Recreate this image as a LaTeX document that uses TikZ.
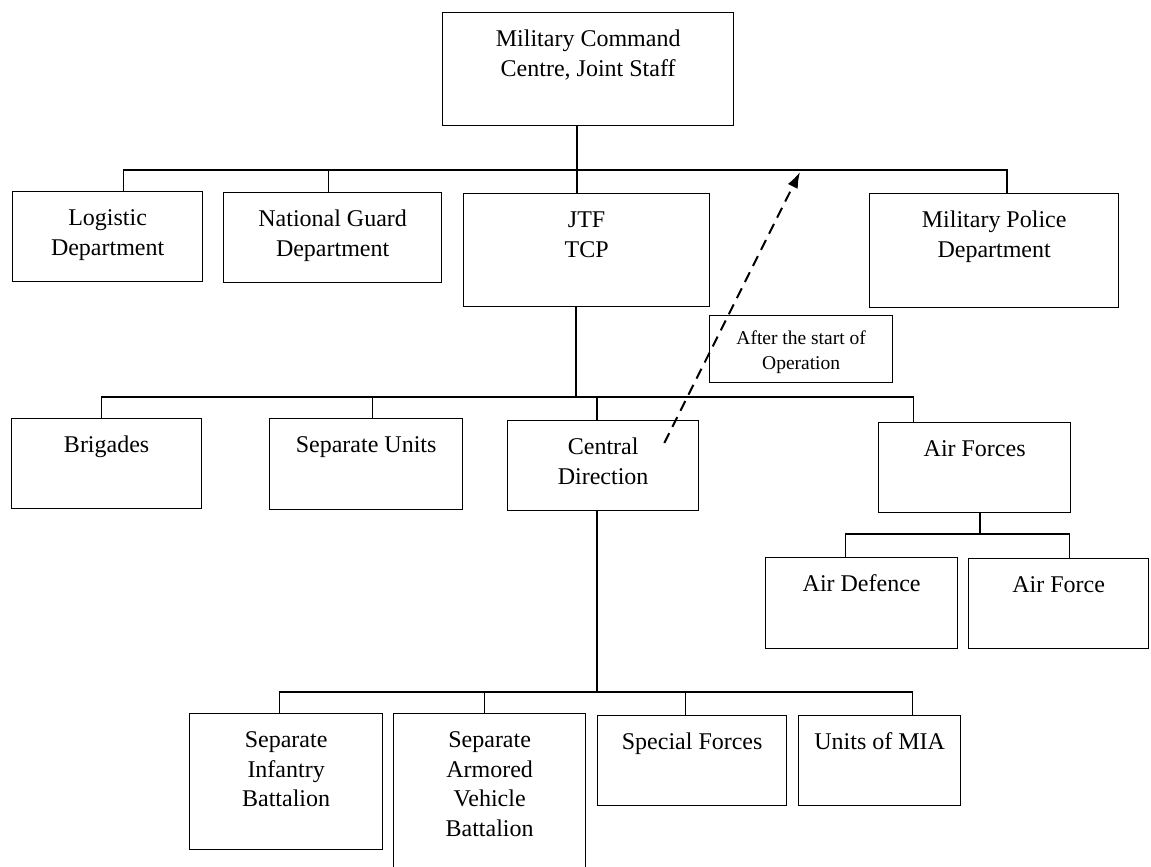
\documentclass[tikz,border=0pt]{standalone}
\usepackage{fontspec}
\setmainfont{Liberation Serif}
\usetikzlibrary{arrows.meta}
\newcommand{\celltext}[4][13.5pt]{\parbox[c][#3][t]{#2}{\centering\vspace*{#1}\strut #4}}

\begin{document}
\begin{tikzpicture}[x=1pt, y=-1pt]
	\tikzset{unit/.style={draw=black, line width=1.3pt, inner sep=0pt, anchor=north west, font=\fontsize{24}{29.5}\selectfont}, note/.style={unit, font=\fontsize{19.5}{25}\selectfont}, link/.style={line width=1.6pt}, fleche/.style={line width=2pt, dash pattern=on 11pt off 7pt, -{Latex[length=16pt, width=11pt]}}};
	\path[use as bounding box, clip] (0,0) rectangle (1151,867);

	% command and departments
	\node[unit] (top) at (442,12) {\celltext{291pt}{113pt}{Military Command\\Centre, Joint Staff}};
	\node[unit] (log) at (12,191) {\celltext{190pt}{90pt}{Logistic\\Department}};
	\node[unit] (ng) at (223,192) {\celltext{218pt}{90pt}{National Guard\\Department}};
	\node[unit] (jtf) at (463,193) {\celltext{246pt}{113pt}{JTF\\TCP}};
	\node[unit] (mp) at (869,193) {\celltext{249pt}{114pt}{Military Police\\Department}};
	\node[note] (after) at (709,315) {\celltext[11pt]{183pt}{67pt}{After the start of\\Operation}};

	% forces
	\node[unit] (brig) at (11,418) {\celltext{190pt}{90pt}{Brigades}};
	\node[unit] (sepu) at (269,418) {\celltext{193pt}{91pt}{Separate Units}};
	\node[unit] (cd) at (507,420) {\celltext{191pt}{90pt}{Central\\Direction}};
	\node[unit] (af) at (878,422) {\celltext{192pt}{90pt}{Air Forces}};
	\node[unit] (ad) at (765,557) {\celltext{192pt}{91pt}{Air Defence}};
	\node[unit] (afo) at (968,558) {\celltext{180pt}{90pt}{Air Force}};

	% central direction units
	\node[unit] (sib) at (189,713) {\celltext{193pt}{136pt}{Separate\\Infantry\\Battalion}};
	\node[unit] (savb) at (393,713) {\celltext{192pt}{175pt}{Separate\\Armored\\Vehicle\\Battalion}};
	\node[unit] (sf) at (597,715) {\celltext{189pt}{90pt}{Special Forces}};
	\node[unit] (mia) at (798,715) {\celltext{162pt}{90pt}{Units of MIA}};

	\coordinate (bus1) at (577,170);
	\coordinate (bus2) at (576,397);
	\coordinate (bus3) at (597,692);
	\coordinate (bus4) at (980,534);
	\coordinate (optip) at (800,172);

	\draw[link] (top.south -| bus1) -- (jtf.north -| bus1);
	\draw[link] ([xshift=16pt]log.north) |- (bus1) -| ([xshift=13pt]mp.north);
	\draw[link] ([xshift=-4pt]ng.north) -- ([xshift=-4pt]ng.north |- bus1);

	\draw[link] (jtf.south -| bus2) -- (bus2);
	\draw[link] ([xshift=-5pt]brig.north) |- (bus2) -| ([xshift=-61pt]af.north);
	\draw[link] ([xshift=6.5pt]sepu.north) -- ([xshift=6.5pt]sepu.north |- bus2);
	\draw[link] (cd.north -| bus3) -- (bus3 |- bus2);

	\draw[link] (cd.south -| bus3) -- (bus3);
	\draw[link] ([xshift=-6.5pt]sib.north) |- (bus3) -| ([xshift=33pt]mia.north);
	\draw[link] ([xshift=-5pt]savb.north) -- ([xshift=-5pt]savb.north |- bus3);
	\draw[link] ([xshift=-6.5pt]sf.north) -- ([xshift=-6.5pt]sf.north |- bus3);

	\draw[link] (af.south -| bus4) -- (bus4);
	\draw[link] ([xshift=-16pt]ad.north) |- (bus4) -| ([xshift=11pt]afo.north);

	\draw[fleche] ([xshift=-35pt, yshift=-23pt]cd.north east) -- (optip);
\end{tikzpicture}
\end{document}
